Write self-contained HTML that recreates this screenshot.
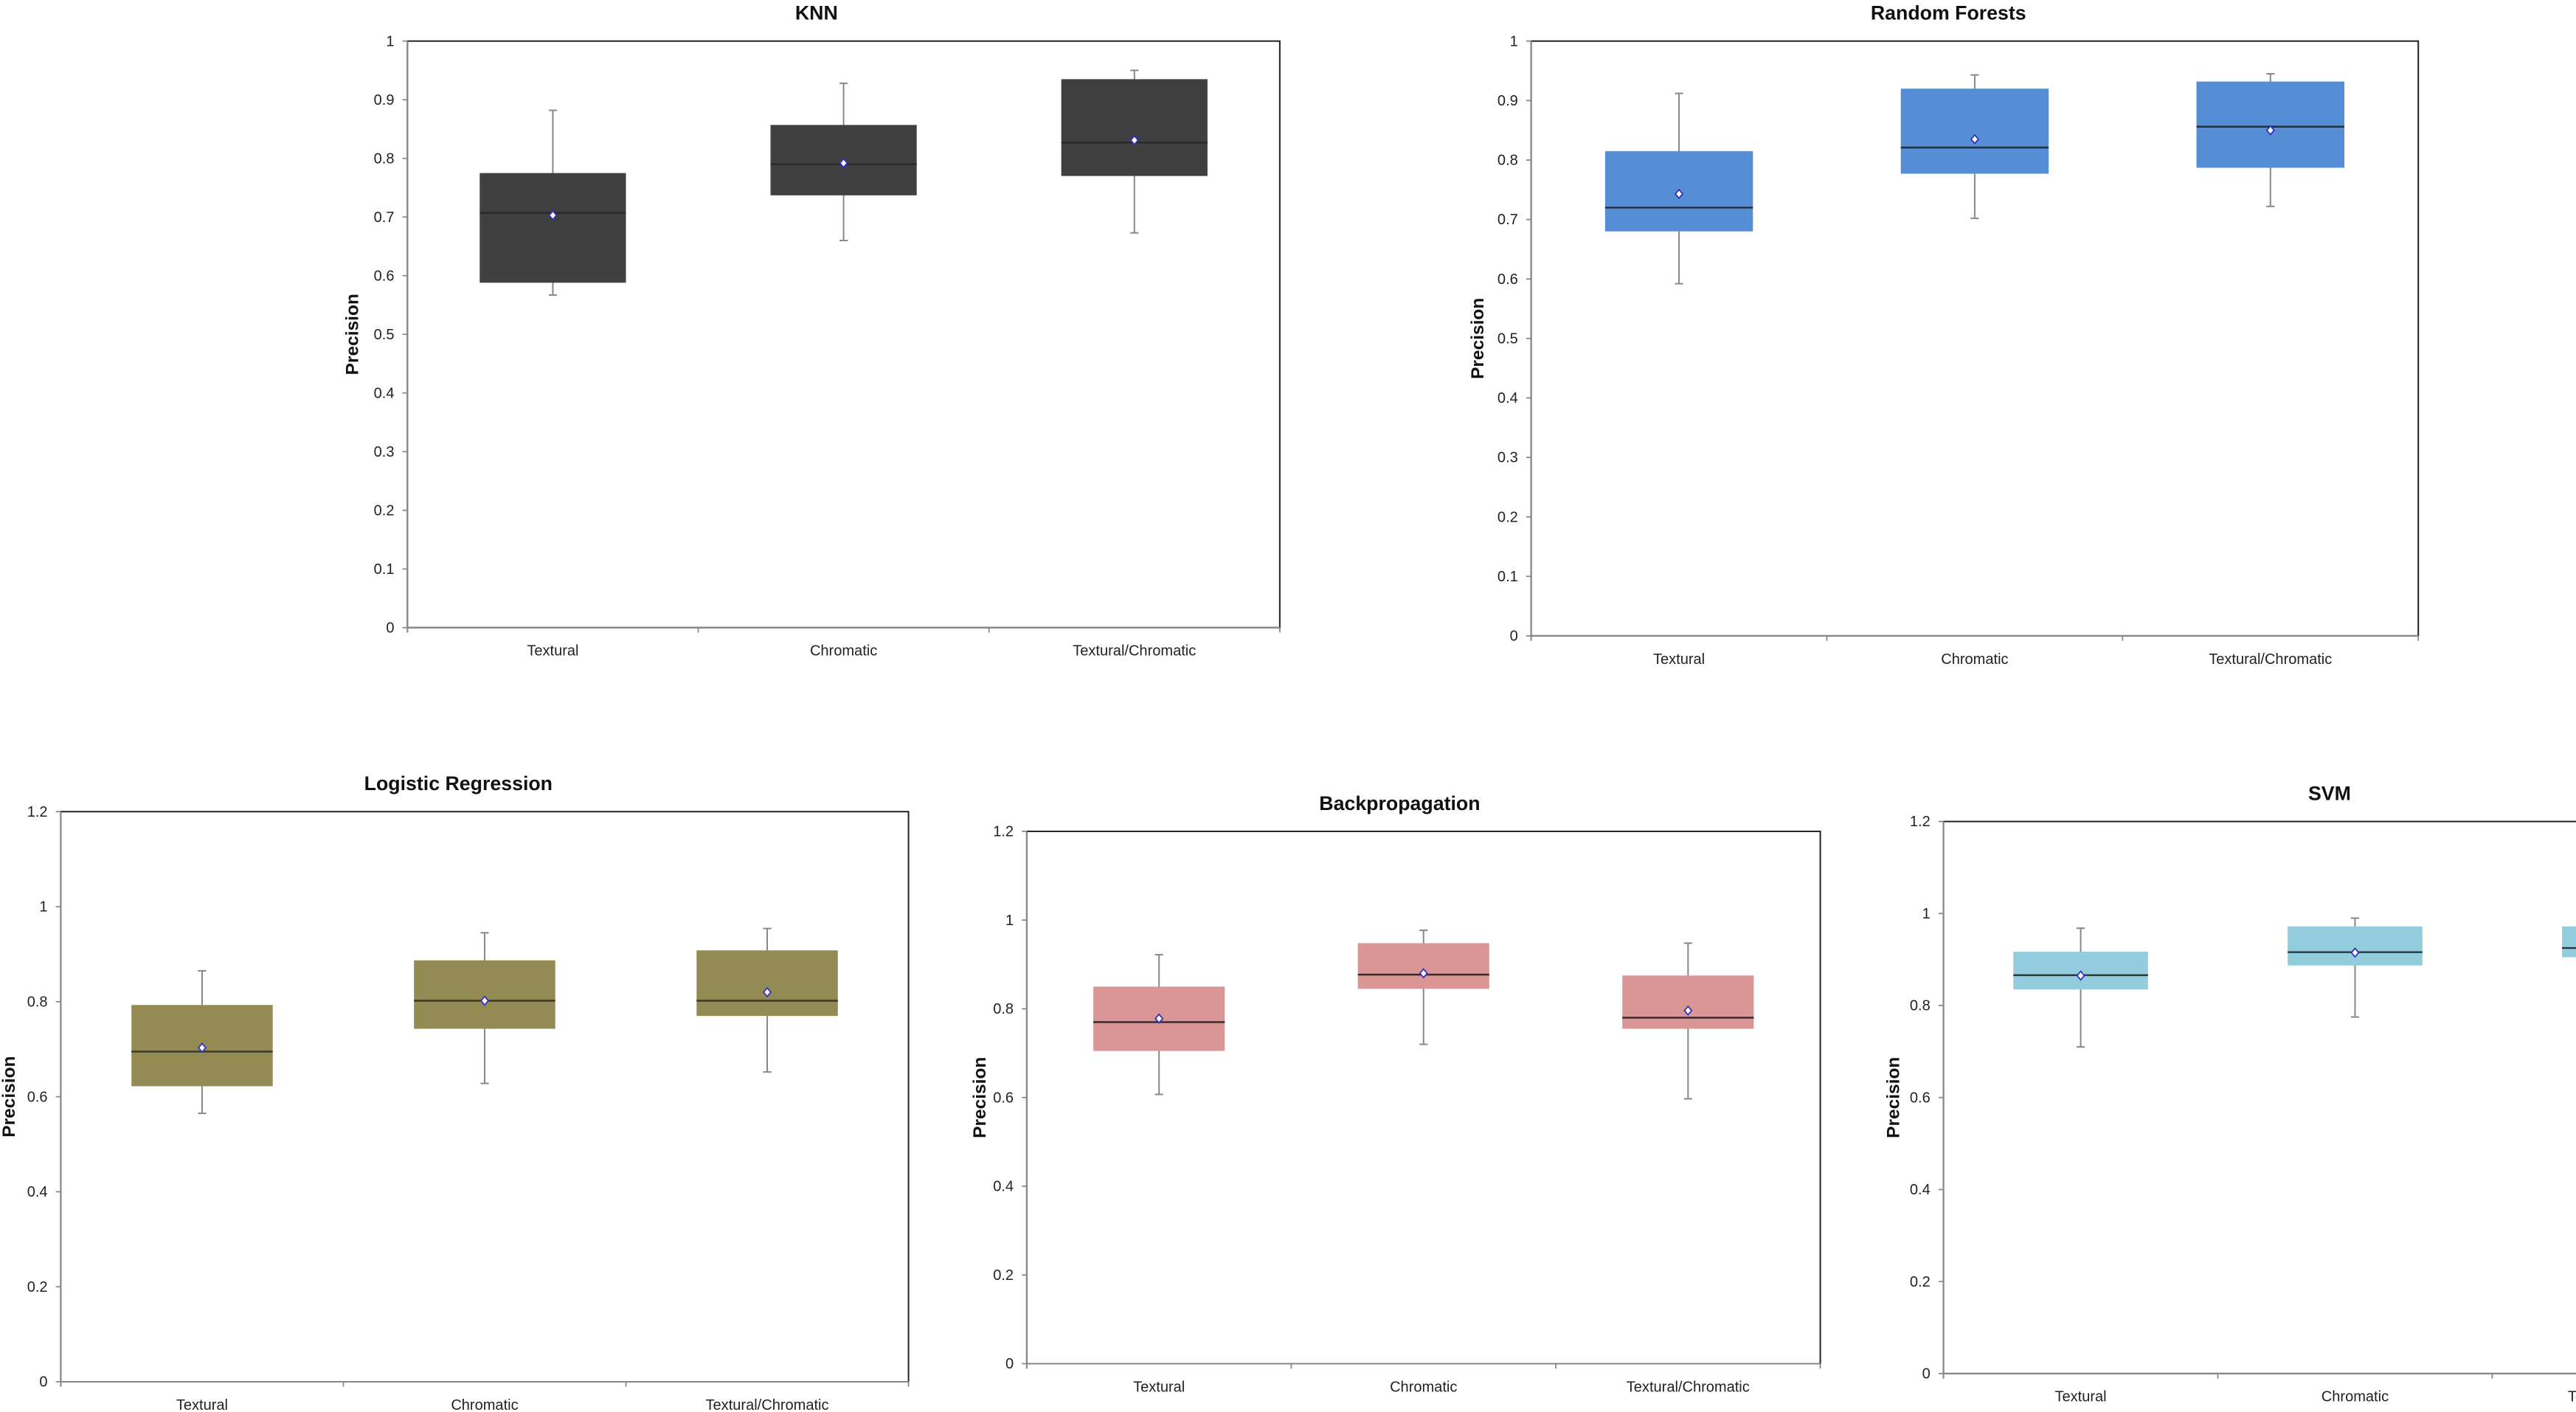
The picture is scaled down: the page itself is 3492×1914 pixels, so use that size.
<!DOCTYPE html>
<html><head><meta charset="utf-8"><style>
html,body{margin:0;padding:0;background:#fff;}
svg{display:block;}
text{font-family:"Liberation Sans Narrow","Liberation Sans",sans-serif;}
</style></head>
<body>
<svg id="root" width="3492" height="1914" viewBox="0 0 1568 859.4" preserveAspectRatio="none" xmlns="http://www.w3.org/2000/svg"></svg>
<script>
const categories = ["Textural","Chromatic","Textural/Chromatic"];
// KNN
const knnWhiskerLow = [0.567,0.660,0.673];
const knnQ1 = [0.588,0.737,0.770];
const knnMedian = [0.707,0.790,0.827];
const knnQ3 = [0.775,0.857,0.935];
const knnWhiskerHigh = [0.882,0.928,0.950];
const knnMean = [0.703,0.792,0.831];
const knnTicks = ["0","0.1","0.2","0.3","0.4","0.5","0.6","0.7","0.8","0.9","1"];
// Random Forests
const rfWhiskerLow = [0.592,0.702,0.722];
const rfQ1 = [0.680,0.777,0.787];
const rfMedian = [0.720,0.821,0.856];
const rfQ3 = [0.815,0.920,0.932];
const rfWhiskerHigh = [0.912,0.943,0.945];
const rfMean = [0.743,0.835,0.850];
const rfTicks = ["0","0.1","0.2","0.3","0.4","0.5","0.6","0.7","0.8","0.9","1"];
// Logistic Regression
const lrWhiskerLow = [0.565,0.628,0.652];
const lrQ1 = [0.622,0.743,0.770];
const lrMedian = [0.695,0.802,0.802];
const lrQ3 = [0.793,0.887,0.908];
const lrWhiskerHigh = [0.865,0.945,0.954];
const lrMean = [0.703,0.802,0.820];
const lrTicks = ["0","0.2","0.4","0.6","0.8","1","1.2"];
// Backpropagation
const bpWhiskerLow = [0.607,0.720,0.597];
const bpQ1 = [0.705,0.845,0.755];
const bpMedian = [0.770,0.877,0.780];
const bpQ3 = [0.850,0.948,0.875];
const bpWhiskerHigh = [0.922,0.977,0.948];
const bpMean = [0.778,0.880,0.796];
const bpTicks = ["0","0.2","0.4","0.6","0.8","1","1.2"];
// SVM
const svmWhiskerLow = [0.710,0.775,0.800];
const svmQ1 = [0.835,0.887,0.905];
const svmMedian = [0.866,0.916,0.925];
const svmQ3 = [0.917,0.972,0.972];
const svmWhiskerHigh = [0.968,0.990,0.990];
const svmMean = [0.865,0.915,0.925];
const svmTicks = ["0","0.2","0.4","0.6","0.8","1","1.2"];

const NS = "http://www.w3.org/2000/svg";
const root = document.getElementById('root');
function mk(tag, attrs, parent){
  const e = document.createElementNS(NS, tag);
  for (const k in attrs) e.setAttribute(k, attrs[k]);
  (parent||root).appendChild(e);
  return e;
}

function chart(cfg){
  const g = mk('g', {});
  
  
  const L=cfg.left, R=cfg.right, T=cfg.top, B=cfg.bottom;
  const ymax = parseFloat(cfg.ticks[cfg.ticks.length-1]);
  const y = v => B - (v/ymax)*(B-T);
  const band = (R-L)/categories.length;
  const x = i => L + band*(i+0.5);
  const fr = mk('rect', {x:L,y:T,width:R-L,height:B-T,fill:'#fff',stroke:'#222','stroke-width':0.9}, g);
  
  
  mk('line',{x1:L,y1:T,x2:L,y2:B+3,stroke:'#888','stroke-width':0.9},g);
  mk('line',{x1:L,y1:B,x2:R,y2:B,stroke:'#888','stroke-width':0.9},g);
  const t = mk('text', {x:cfg.titleX, y:T-13, 'text-anchor':'middle','font-size':12,'font-weight':'bold',fill:'#111'}, g);
  t.textContent = cfg.title;
  
  
  cfg.ticks.forEach(lbl => {
    const v = parseFloat(lbl);
    mk('line',{x1:L-3,y1:y(v),x2:L,y2:y(v),stroke:'#888','stroke-width':0.8},g);
    const tt = mk('text',{x:L-8,y:y(v)+3,'text-anchor':'end','font-size':9,fill:'#222'},g);
    tt.textContent = lbl;
    
    
  });
  const yt = mk('text',{x:0,y:0,'text-anchor':'middle','font-size':11,'font-weight':'bold',fill:'#111',
    transform:`translate(${cfg.ytitleX},${(T+B)/2}) rotate(-90)`, style:'font-family:"Liberation Sans",sans-serif'},g);
  yt.textContent = 'Precision';
  
  
  for (let i=0;i<=categories.length;i++){
    mk('line',{x1:L+band*i,y1:B,x2:L+band*i,y2:B+3,stroke:'#888','stroke-width':0.8},g);
  }
  categories.forEach((c,i) => {
    const xt = mk('text',{x:x(i),y:B+17,'text-anchor':'middle','font-size':9,fill:'#222'},g);
    xt.textContent = c;
    
    
  });
  const clip = mk('clipPath',{id:cfg.id+'-clip'},g);
  mk('rect',{x:L,y:T,width:R-L,height:B-T},clip);
  const bg = mk('g',{'clip-path':`url(#${cfg.id}-clip)`},g);
  const w = cfg.boxW;
  categories.forEach((c,i) => {
    const cx = x(i);
    const wh = mk('line',{x1:cx,y1:y(cfg.wl[i]),x2:cx,y2:y(cfg.wh[i]),stroke:'#888','stroke-width':0.9},bg);
    
    
    mk('line',{x1:cx-2.5,y1:y(cfg.wl[i]),x2:cx+2.5,y2:y(cfg.wl[i]),stroke:'#888','stroke-width':0.9},bg);
    mk('line',{x1:cx-2.5,y1:y(cfg.wh[i]),x2:cx+2.5,y2:y(cfg.wh[i]),stroke:'#888','stroke-width':0.9},bg);
    const bx = mk('rect',{x:cx-w/2,y:y(cfg.q3[i]),width:w,height:y(cfg.q1[i])-y(cfg.q3[i]),fill:cfg.color},bg);
    
    
    const md = mk('line',{x1:cx-w/2,y1:y(cfg.med[i]),x2:cx+w/2,y2:y(cfg.med[i]),stroke:cfg.medColor,'stroke-width':1.1},bg);
    
    
    const mn = mk('path',{d:`M${cx},${y(cfg.mean[i])-2.6} L${cx+2.2},${y(cfg.mean[i])} L${cx},${y(cfg.mean[i])+2.6} L${cx-2.2},${y(cfg.mean[i])} Z`,fill:'#fff',stroke:'#3030c0','stroke-width':0.8},bg);
    
    
  });
}

chart({id:'knn',title:'KNN',titleX:497,left:248,right:779,top:25,bottom:382,ticks:knnTicks,ytitleX:218,boxW:89,color:'#404040',medColor:'#2a2a2a',
  wl:knnWhiskerLow,q1:knnQ1,med:knnMedian,q3:knnQ3,wh:knnWhiskerHigh,mean:knnMean});
chart({id:'random-forests',title:'Random Forests',titleX:1186,left:932,right:1472,top:25,bottom:387,ticks:rfTicks,ytitleX:903,boxW:90,color:'#558ed5',medColor:'#1f2f3f',
  wl:rfWhiskerLow,q1:rfQ1,med:rfMedian,q3:rfQ3,wh:rfWhiskerHigh,mean:rfMean});
chart({id:'logistic-regression',title:'Logistic Regression',titleX:279,left:37,right:553,top:494,bottom:841,ticks:lrTicks,ytitleX:9,boxW:86,color:'#948a54',medColor:'#3a3628',
  wl:lrWhiskerLow,q1:lrQ1,med:lrMedian,q3:lrQ3,wh:lrWhiskerHigh,mean:lrMean});
chart({id:'backpropagation',title:'Backpropagation',titleX:852,left:625,right:1108,top:506,bottom:830,ticks:bpTicks,ytitleX:600,boxW:80,color:'#d99694',medColor:'#3a2a2a',
  wl:bpWhiskerLow,q1:bpQ1,med:bpMedian,q3:bpQ3,wh:bpWhiskerHigh,mean:bpMean});
chart({id:'svm',title:'SVM',titleX:1418,left:1183,right:1684,top:500,bottom:836,ticks:svmTicks,ytitleX:1156,boxW:82,color:'#93cddd',medColor:'#24383e',
  wl:svmWhiskerLow,q1:svmQ1,med:svmMedian,q3:svmQ3,wh:svmWhiskerHigh,mean:svmMean});
</script>
</body></html>
